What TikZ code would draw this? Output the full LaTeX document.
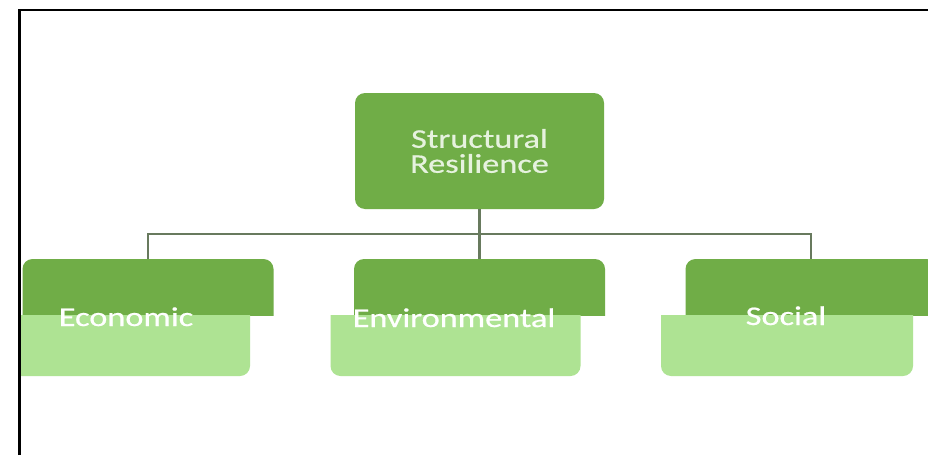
\documentclass[tikz,border=0pt]{standalone}
\usepackage{fontspec}
\newfontfamily\boxfont[FakeStretch=1.27,FakeBold=0.6]{Carlito}
\definecolor{darkleaf}{HTML}{70AD47}
\definecolor{lightleaf}{HTML}{AEE393}
\definecolor{linkgray}{HTML}{687A5E}
\definecolor{paletext}{HTML}{E6F2DE}
\tikzset{
  x=1pt, y=-1pt,
  topbox/.style={rectangle, rounded corners=10pt, fill=darkleaf, minimum width=249pt,
    minimum height=116pt, inner sep=0pt, text=paletext, align=center,
    font=\boxfont\fontsize{27}{25}\selectfont},
  headbox/.style={rectangle, rounded corners=10pt, fill=darkleaf, minimum width=251pt,
    minimum height=80pt, inner sep=0pt},
  basebox/.style={rectangle, rounded corners=10pt, fill=lightleaf, minimum width=250pt,
    minimum height=80pt, inner sep=0pt},
  label/.style={anchor=base, inner sep=0pt, text=white,
    font=\boxfont\fontsize{27}{25}\selectfont},
  conn/.style={draw=linkgray, line width=2.6pt},
}
\begin{document}
\begin{tikzpicture}
\useasboundingbox (0,0) rectangle (928,455);
\fill[white] (0,0) rectangle (928,455);
\begin{scope}
  \clip (19,10) rectangle (928,455);
  % root box
  \node[topbox] (root) at (479.5,151) {Structural\\Resilience};
  % upper (dark) halves of the three category boxes
  \begin{scope}
    \clip (0,0) rectangle (928,315);
    \node[headbox] (econ) at (148,299) {};
    \node[headbox] (env)  at (479.5,299) {};
    \node[headbox] (soc)  at (811,299) {};
  \end{scope}
  % lower (light) halves
  \begin{scope}
    \clip (0,315) rectangle (928,455);
    \node[basebox, minimum width=260pt] (econL) at (120,336) {};
    \node[basebox] (envL) at (455.5,336) {};
    \node[basebox, minimum width=252pt] (socL) at (787,336) {};
  \end{scope}
  % labels
  \node[label] (econT) at (126,326) {Economic};
  \node[label] (envT)  at (454,327) {Environmental};
  \node[label] (socT)  at (786,325) {Social};
  % connectors
  \coordinate (bus) at (479.5,234);
  \draw[conn] (root.south) -- (bus);
  \draw[conn] (bus) -| (econ.north);
  \draw[conn] (bus) -| (soc.north);
  \draw[conn] (bus) -- (env.north);
\end{scope}
% frame
\draw[line width=2.6pt] (19.2,455) -- (19.2,10) -- (928,10);
\end{tikzpicture}
\end{document}
